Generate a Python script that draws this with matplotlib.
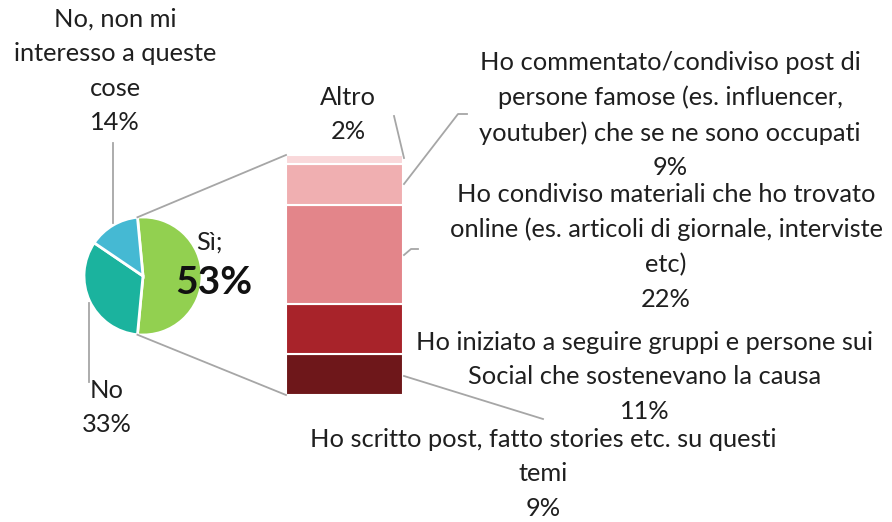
import numpy as np
import matplotlib
matplotlib.use("Agg")
import matplotlib.pyplot as plt

plt.rcParams['font.family'] = ['Lato', 'DejaVu Sans']

# pie: main answer
pie_labels = ["Sì", "No", "No, non mi\ninteresso a queste\ncose"]
pie_values = [53, 33, 14]
pie_colors = ["#92D050", "#1BB39E", "#45B9D3"]

# bar: breakdown of the "Sì" slice (bottom to top)
bar_labels = ["Ho scritto post, fatto stories etc. su questi\ntemi",
              "Ho iniziato a seguire gruppi e persone sui\nSocial che sostenevano la causa",
              "Ho condiviso materiali che ho trovato\nonline (es. articoli di giornale, interviste\netc)",
              "Ho commentato/condiviso post di\npersone famose (es. influencer,\nyoutuber) che se ne sono occupati",
              "Altro"]
bar_values = [9, 11, 22, 9, 2]
bar_colors = ["#6E171A", "#A8232A", "#E3858A", "#F0AFB1", "#F9D8DA"]

W, H = 892, 522
fig = plt.figure(figsize=(W / 100, H / 100), dpi=100)
ax = fig.add_axes([0, 0, 1, 1])

txt = "#1f1f1f"
lc = "#A6A6A6"
fs = 18.3
ls = 1.6

# pie
cx, cy, r = 143, H - 276, 59
start = pie_values[0] / sum(pie_values) * 360 / 2
ax.pie(pie_values, colors=pie_colors, center=(cx, cy), radius=r,
       startangle=start, counterclock=False,
       wedgeprops=dict(edgecolor="white", linewidth=2))

# stacked bar
bx, bw = 344.5, 117
b0 = H - 395
scale = 240 / sum(bar_values)
bottoms = b0 + np.concatenate([[0], np.cumsum(bar_values)[:-1]]) * scale
ax.bar(bx, np.array(bar_values) * scale, width=bw, bottom=bottoms,
       color=bar_colors, edgecolor="white", linewidth=1.5)

# connectors pie -> bar
a = np.deg2rad(start)
top_pt = (cx + r * np.cos(a), cy + r * np.sin(a))
bot_pt = (cx + r * np.cos(-a), cy + r * np.sin(-a))
bar_top = b0 + sum(bar_values) * scale
ax.plot([top_pt[0], bx - bw / 2], [top_pt[1], bar_top], color=lc, lw=1.3)
ax.plot([bot_pt[0], bx - bw / 2], [bot_pt[1], b0], color=lc, lw=1.3)

# leader lines
ax.plot([113, 113], [H - 143, H - 223], color=lc, lw=1.3)
ax.plot([89, 89], [H - 303, H - 382], color=lc, lw=1.3)
ax.plot([394, 404], [H - 116, H - 158], color=lc, lw=1.3)
ax.plot([404, 458, 467], [H - 184, H - 114, H - 114], color=lc, lw=1.3)
ax.plot([404, 411, 418], [H - 255, H - 249, H - 249], color=lc, lw=1.3)
ax.plot([404, 543], [H - 376, H - 419], color=lc, lw=1.3)

# pie labels
ax.text(115, H - 8, pie_labels[2] + "\n%d%%" % pie_values[2], ha="center", va="top",
        fontsize=fs, color=txt, linespacing=ls)
ax.text(107, H - 379, pie_labels[1] + "\n%d%%" % pie_values[1], ha="center", va="top",
        fontsize=fs, color=txt, linespacing=ls)
ax.text(196, H - 242, pie_labels[0] + ";", ha="left", va="center", fontsize=fs, color=txt)
ax.text(214, H - 283, "%d%%" % pie_values[0], ha="center", va="center",
        fontsize=28, fontweight="bold", color="#111111")

# bar labels
pos = [(543, 428), (645, 331), (666, 183), (670, 51), (348, 86)]
for (x, y), lab, v in zip(pos, bar_labels, bar_values):
    ax.text(x, H - y, lab + "\n%d%%" % v, ha="center", va="top",
            fontsize=fs, color=txt, linespacing=ls)

ax.set_xlim(0, W)
ax.set_ylim(0, H)
ax.set_aspect("auto")
ax.axis("off")

fig.savefig("out.png", dpi=100)
